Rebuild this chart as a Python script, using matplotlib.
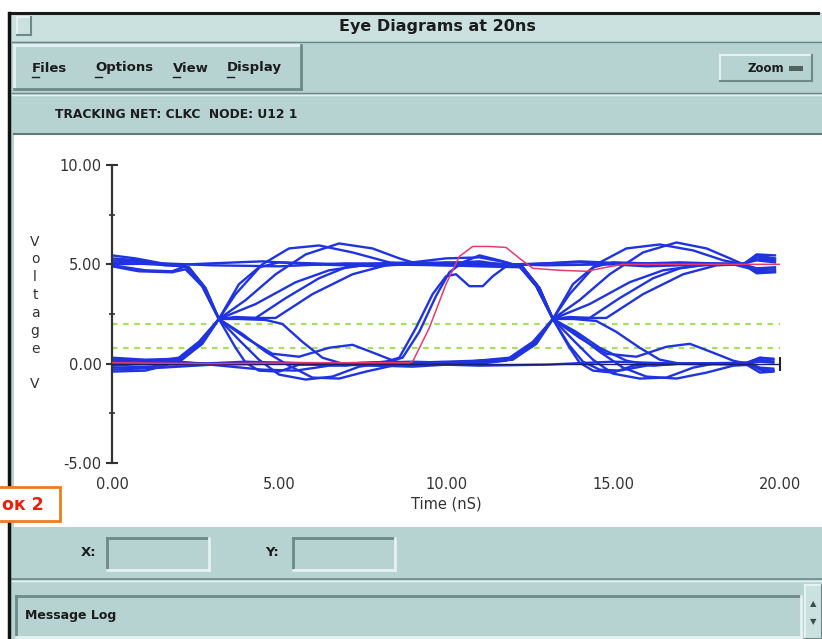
import matplotlib
matplotlib.use('Agg')
import matplotlib.pyplot as plt
from matplotlib.patches import Rectangle
from matplotlib.lines import Line2D

# eye diagram traces: (time ns, voltage V)
trace_01 = [(0.0, 5.1), (1.2, 5.0), (2.2, 4.9), (2.7, 4.0), (3.2, 2.25), (3.7, 0.8), (4.0, 0.05), (4.4, -0.35),
            (5.0, -0.4), (5.6, -0.05), (6.5, 0.0), (9.0, 0.1), (11.0, 0.0), (11.8, 0.15), (12.6, 0.9), (13.2, 2.25),
            (13.8, 4.0), (14.4, 4.85), (15.0, 5.1), (17.0, 5.0), (18.9, 5.0), (19.3, 5.5), (19.85, 5.45)]
trace_02 = [(0.0, 5.45), (0.7, 5.3), (1.5, 5.05), (2.3, 4.85), (2.8, 3.8), (3.2, 2.25), (3.8, 1.2), (4.4, 0.2),
            (5.0, -0.55), (5.8, -0.8), (6.6, -0.65), (7.4, -0.15), (8.0, 0.0), (10.0, 0.1), (11.9, 0.2), (12.6, 0.9),
            (13.2, 2.25), (13.7, 3.5), (14.5, 5.0), (15.4, 5.8), (16.4, 6.0), (17.4, 5.7), (18.3, 5.2), (18.9, 5.0),
            (19.3, 4.55), (19.85, 4.6)]
trace_03 = [(0.0, 4.9), (0.8, 4.65), (1.8, 4.6), (2.2, 4.75), (2.7, 3.9), (3.2, 2.25), (3.8, 2.25), (4.6, 2.2),
            (5.1, 2.0), (5.7, 1.1), (6.3, 0.3), (7.0, -0.05), (9.0, -0.15), (11.0, 0.05), (12.0, 0.2), (12.7, 1.0),
            (13.2, 2.25), (13.7, 2.35), (14.3, 2.3), (15.2, 3.3), (16.2, 4.3), (17.0, 4.8), (17.9, 5.0),
            (18.9, 5.05), (19.3, 5.2), (19.85, 5.1)]
trace_04 = [(0.0, 5.2), (1.0, 5.1), (2.3, 4.85), (2.8, 3.8), (3.2, 2.25), (4.0, 1.3), (4.8, 0.5), (5.6, 0.35),
            (6.5, 0.8), (7.2, 0.95), (7.9, 0.5), (8.5, 0.1), (9.0, 0.0), (11.0, -0.1), (13.0, -0.05), (15.0, 0.1),
            (17.0, 0.0), (19.0, 0.0), (19.4, 0.3), (19.8, 0.25)]
trace_05 = [(0.0, 4.95), (1.0, 4.7), (1.8, 4.65), (2.2, 4.9), (2.7, 3.9), (3.2, 2.25), (3.9, 1.5), (4.6, 0.6),
            (5.3, -0.1), (6.0, -0.7), (6.8, -0.75), (7.6, -0.4), (8.4, -0.1), (10.0, 0.0), (11.9, 0.25),
            (12.6, 1.0), (13.2, 2.25), (14.0, 3.2), (14.9, 4.5), (15.9, 5.6), (16.9, 6.1), (17.8, 5.8), (18.5, 5.3),
            (18.9, 5.0), (19.3, 5.45), (19.85, 5.3)]
trace_06 = [(0.0, 0.05), (1.2, 0.0), (1.9, 0.15), (2.6, 0.9), (3.2, 2.25), (3.8, 4.0), (4.4, 4.85), (5.0, 5.1),
            (7.0, 5.0), (9.0, 5.1), (11.0, 5.0), (12.2, 4.9), (12.7, 4.0), (13.2, 2.25), (13.7, 0.8), (14.0, 0.05),
            (14.4, -0.35), (15.0, -0.45), (15.6, -0.1), (16.5, 0.0), (19.0, -0.05), (19.4, -0.45), (19.8, -0.4)]
trace_07 = [(0.0, -0.4), (1.0, -0.35), (1.6, -0.1), (2.0, 0.2), (2.6, 0.9), (3.2, 2.25), (3.7, 3.5), (4.5, 5.0),
            (5.3, 5.8), (6.2, 5.95), (7.2, 5.6), (8.3, 5.1), (9.0, 5.0), (11.0, 4.9), (12.3, 4.85), (12.8, 3.8),
            (13.2, 2.25), (13.8, 1.2), (14.4, 0.2), (15.0, -0.5), (15.8, -0.75), (16.6, -0.7), (17.4, -0.2),
            (18.0, 0.0), (19.0, 0.05), (19.4, 0.3), (19.8, 0.2)]
trace_08 = [(0.0, 0.3), (1.0, 0.2), (2.0, 0.25), (2.6, 1.0), (3.2, 2.25), (4.0, 3.2), (4.9, 4.5), (5.8, 5.5),
            (6.8, 6.05), (7.8, 5.8), (8.6, 5.3), (9.2, 5.0), (11.0, 5.15), (12.3, 4.85), (12.8, 3.8), (13.2, 2.25),
            (14.0, 1.3), (14.8, 0.5), (15.7, 0.35), (16.6, 0.85), (17.3, 1.0), (18.0, 0.55), (18.6, 0.15),
            (19.0, 0.0), (19.4, -0.3), (19.8, -0.35)]
trace_09 = [(0.0, -0.2), (1.2, -0.15), (2.1, 0.2), (2.7, 1.0), (3.2, 2.25), (3.7, 2.35), (4.3, 2.3), (5.2, 3.3),
            (6.2, 4.3), (7.0, 4.85), (7.8, 5.0), (10.0, 4.95), (12.2, 4.9), (12.7, 3.9), (13.2, 2.25), (13.8, 2.25),
            (14.5, 2.15), (15.1, 1.6), (15.8, 0.8), (16.4, 0.2), (17.0, 0.0), (19.0, 0.0), (19.4, 0.2), (19.8, 0.1)]
trace_10 = [(0.0, 0.1), (1.0, 0.05), (2.0, 0.3), (2.6, 1.1), (3.2, 2.25), (4.0, 2.3), (4.9, 2.3), (6.0, 3.5),
            (7.2, 4.5), (8.2, 4.95), (9.0, 5.0), (11.0, 5.05), (12.2, 4.9), (12.7, 3.9), (13.2, 2.25), (13.9, 1.5),
            (14.6, 0.6), (15.3, -0.2), (16.0, -0.65), (16.9, -0.75), (17.8, -0.45), (18.6, -0.1), (19.2, -0.05),
            (19.5, -0.4), (19.8, -0.35)]
trace_11 = [(0.0, -0.1), (1.0, 0.0), (2.0, 0.2), (2.7, 1.0), (3.2, 2.25), (4.3, 3.0), (5.5, 4.1), (6.5, 4.7),
            (7.5, 4.95), (8.5, 5.0), (10.0, 5.1), (12.0, 5.0), (14.0, 5.1), (16.0, 4.9), (18.0, 5.0), (18.9, 5.0),
            (19.3, 4.6), (19.85, 4.65)]
trace_12 = [(0.0, 5.3), (0.8, 5.2), (1.6, 4.95), (3.0, 5.05), (4.5, 5.15), (6.0, 5.0), (8.0, 4.9), (10.0, 5.3),
            (11.0, 5.35), (11.8, 5.1), (12.2, 4.9), (12.7, 4.0), (13.2, 2.25), (13.7, 0.9), (14.1, 0.1),
            (14.6, -0.3), (15.2, -0.35), (16.0, -0.1), (17.0, 0.0), (19.0, 0.05), (19.4, -0.2), (19.8, -0.25)]
trace_13 = [(0.0, 0.2), (1.5, 0.1), (3.0, 0.0), (5.0, 0.05), (7.0, 0.0), (8.3, 0.1), (8.7, 0.3), (9.2, 1.6),
            (9.7, 3.4), (10.1, 4.6), (10.5, 5.1), (11.0, 5.45), (11.6, 5.2), (12.3, 4.85), (12.8, 3.8), (13.2, 2.25),
            (13.9, 1.6), (14.6, 0.8), (15.4, 0.15), (16.2, -0.1), (17.0, 0.0), (19.0, 0.0), (19.4, 0.1), (19.8, 0.05)]
trace_14 = [(0.0, -0.3), (1.5, -0.2), (3.0, -0.05), (5.0, 0.0), (7.0, -0.1), (8.2, 0.1), (8.6, 0.3), (9.1, 1.8),
            (9.6, 3.5), (10.0, 4.4), (10.3, 4.5), (10.7, 3.9), (11.1, 3.9), (11.4, 4.4), (11.8, 4.9), (12.5, 5.0),
            (14.0, 5.15), (16.0, 5.0), (18.0, 5.05), (18.9, 5.0), (19.3, 5.35), (19.85, 5.25)]
trace_15 = [(0.0, 5.0), (1.5, 5.05), (3.0, 4.95), (5.0, 4.9), (7.0, 5.05), (9.0, 5.0), (11.0, 5.05),
            (13.0, 4.95), (15.0, 5.0), (17.0, 5.1), (18.9, 5.0), (19.3, 4.8), (19.85, 4.85)]
trace_16 = [(0.0, 0.0), (2.0, -0.05), (4.0, 0.1), (6.0, 0.0), (8.0, -0.1), (10.0, 0.0), (11.9, 0.3), (12.6, 1.1),
            (13.2, 2.25), (14.0, 2.3), (14.8, 2.3), (15.9, 3.5), (17.1, 4.5), (18.1, 4.95), (18.9, 5.0),
            (19.3, 5.25), (19.85, 5.2)]
trace_17 = [(0.0, -0.05), (2.0, 0.1), (4.5, -0.3), (5.5, -0.35), (6.5, -0.1), (8.0, 0.0), (10.0, 0.05),
            (11.9, 0.2), (12.7, 1.0), (13.2, 2.25), (14.3, 3.0), (15.5, 4.1), (16.5, 4.7), (17.6, 4.95),
            (18.6, 5.0), (19.3, 4.7), (19.85, 4.75)]
tracked_net = [(0.0, 0.05), (3.0, 0.0), (6.0, 0.05), (8.9, 0.05), (9.0, 0.1), (9.5, 1.8), (10.0, 4.0), (10.4, 5.4),
               (10.8, 5.9), (11.3, 5.9), (11.8, 5.85), (12.2, 5.3), (12.6, 4.8), (13.4, 4.7), (14.2, 4.65),
               (14.8, 4.85), (15.3, 5.0), (17.0, 5.0), (20.0, 5.0)]
ground_ref = [(0.0, 0.0), (20.0, 0.0)]

thresholds = [2.0, 0.8]
x_ticks = [0, 5, 10, 15, 20]
x_ticklabels = ['0.00', '5.00', '10.00', '15.00', '20.00']
y_ticks = [-5, 0, 5, 10]
y_ticklabels = ['-5.00', '0.00', '5.00', '10.00']
y_minor = [-2.5, 2.5, 7.5]

blue_traces = [trace_01, trace_02, trace_03, trace_04, trace_05, trace_06, trace_07, trace_08, trace_09,
               trace_10, trace_11, trace_12, trace_13, trace_14, trace_15, trace_16, trace_17]

W, H = 822, 639
PANEL = '#b6d3d2'
TITLEBAR = '#cae1e0'
LIGHT = '#e6f2f1'
SHADOW = '#6d8988'
BLUE = '#1f34e0'
RED = '#e63a6c'
TXT = '#1c1c1c'

fig = plt.figure(figsize=(W / 100, H / 100), dpi=100, facecolor='white')


def fx(x):
    return x / W


def fy(y):
    return 1 - y / H


def rect(x0, y0, x1, y1, z=-10, **kw):
    fig.add_artist(Rectangle((fx(x0), fy(y1)), (x1 - x0) / W, (y1 - y0) / H,
                             transform=fig.transFigure, zorder=z, **kw))


def seg(x0, y0, x1, y1, z=-9, **kw):
    fig.add_artist(Line2D([fx(x0), fx(x1)], [fy(y0), fy(y1)], transform=fig.transFigure, zorder=z, **kw))


def bevel(x0, y0, x1, y1, raised=True, lw=1.5):
    top = LIGHT if raised else SHADOW
    bot = SHADOW if raised else LIGHT
    seg(x0, y0, x1, y0, color=top, lw=lw)
    seg(x0, y0, x0, y1, color=top, lw=lw)
    seg(x0, y1, x1, y1, color=bot, lw=lw)
    seg(x1, y0, x1, y1, color=bot, lw=lw)


def label(x, y, s, **kw):
    kw.setdefault('color', TXT)
    fig.text(fx(x), fy(y), s, va='center', **kw)


# window frame + title bar
rect(10, 13, 822, 639, facecolor=PANEL, edgecolor='none', z=-12)
rect(12, 14, 822, 41, facecolor=TITLEBAR, edgecolor='none')
seg(12, 13, 818, 13, color='#1a1a1a', lw=2.2, z=-8)
seg(9, 13, 9, 639, color='#111111', lw=2.5, z=-8)
seg(12, 42, 822, 42, color=SHADOW, lw=1)
rect(17, 17, 31, 35, facecolor=TITLEBAR, edgecolor='none')
bevel(17, 17, 31, 35)
label(437, 27, 'Eye Diagrams at 20ns', ha='center', fontsize=11.5, fontweight='bold')

# menu bar
bevel(14, 45, 301, 89, raised=True, lw=2)
for x, name in [(32, 'Files'), (95, 'Options'), (173, 'View'), (227, 'Display')]:
    label(x, 68, name, fontsize=9.5, fontweight='bold')
    seg(x, 77, x + 7, 77, color=TXT, lw=1)
rect(720, 55, 812, 81, facecolor=PANEL, edgecolor='none')
bevel(720, 55, 812, 81)
label(766, 68, 'Zoom', ha='center', fontsize=8.5, fontweight='bold')
rect(789, 66, 803, 71, facecolor='#51625f', edgecolor='none', z=-8)
seg(12, 93, 822, 93, color=SHADOW, lw=1)
seg(12, 95, 822, 95, color=LIGHT, lw=1)
label(55, 115, 'TRACKING NET: CLKC  NODE: U12 1', fontsize=8.8, fontweight='bold')

# plot area background
rect(14, 134, 822, 527, facecolor='white', edgecolor='none')
seg(14, 134, 822, 134, color='#5f7b7a', lw=1.5)

# cursor readout
label(81, 552, 'X:', fontsize=9.5, fontweight='bold')
bevel(107, 538, 209, 570, raised=False, lw=2)
label(265, 552, 'Y:', fontsize=9.5, fontweight='bold')
bevel(293, 538, 395, 570, raised=False, lw=2)
seg(12, 579, 822, 579, color=SHADOW, lw=1.2)
seg(12, 581, 822, 581, color=LIGHT, lw=1)

# message log
bevel(16, 596, 801, 637, raised=False, lw=2)
label(25, 616, 'Message Log', fontsize=9, fontweight='bold')
rect(805, 585, 822, 639, facecolor=TITLEBAR, edgecolor='none')
bevel(805, 585, 822, 639)
label(813, 604, '▲', ha='center', fontsize=6, color='#3c4c4b')
label(813, 622, '▼', ha='center', fontsize=6, color='#3c4c4b')

# caption tag on the left edge
rect(-3, 487, 60, 521, z=20, facecolor='white', edgecolor='#f07a22', lw=2)
fig.text(fx(2), fy(505), 'ок 2', color='#e8200c', fontsize=12.5, fontweight='bold', va='center', zorder=21)

# the eye diagram
ax = fig.add_axes([fx(112), fy(463), (780 - 112) / W, (463 - 165) / H])
ax.patch.set_alpha(0)
ax.set_xlim(0, 20)
ax.set_ylim(-5, 10)
for side in ['top', 'right', 'bottom']:
    ax.spines[side].set_visible(False)
ax.spines['left'].set_color('#333333')
ax.spines['left'].set_linewidth(1.6)

ax.hlines(thresholds, 0, 20, colors='#a6e063', linestyles=(0, (2.5, 2.5)), lw=1.6, zorder=1)
for tr in blue_traces:
    t, v = zip(*tr)
    ax.plot(t, v, color=BLUE, lw=1.7, solid_joinstyle='round', zorder=2)
t, v = zip(*ground_ref)
ax.plot(t, v, color='#1c1c6a', lw=1.0, zorder=3)
ax.plot([t[-1]], [v[-1]], marker='|', ms=10, mew=1.5, color='#222222', clip_on=False, zorder=3)
t, v = zip(*tracked_net)
ax.plot(t, v, color=RED, lw=1.1, zorder=4)

ax.set_xticks(x_ticks)
ax.set_xticklabels(x_ticklabels)
ax.set_yticks(y_ticks)
ax.set_yticklabels(y_ticklabels)
ax.set_yticks(y_minor, minor=True)
ax.tick_params(axis='x', length=0, pad=10, labelsize=10.5, labelcolor='#333333')
ax.tick_params(axis='y', which='major', direction='inout', length=9, width=1.5, color='#333333',
               pad=3, labelsize=10.5, labelcolor='#333333')
ax.tick_params(axis='y', which='minor', direction='inout', length=5, width=1.2, color='#333333')
ax.set_xlabel('Time (nS)', fontsize=10.5, color='#333333', labelpad=3)

label(35, 313, '\n'.join('Voltage') + '\n\nV', ha='center', fontsize=10, color='#333333', linespacing=1.35)

fig.savefig('out.png', dpi=100, facecolor=fig.get_facecolor())
